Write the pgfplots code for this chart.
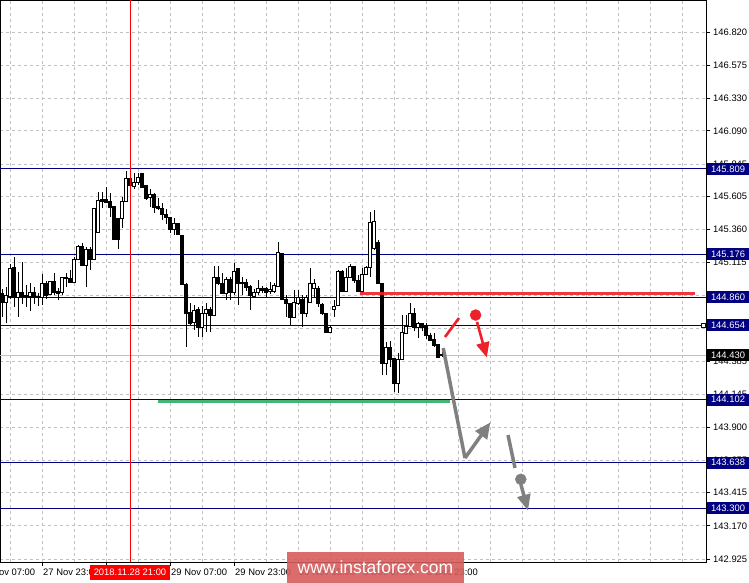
\documentclass[border=0pt]{standalone}
\usepackage{fontspec}
\setmainfont{Liberation Sans}
\usepackage{pgfplots}
\pgfplotsset{compat=1.18}
\usepackage{pgfplotstable}
\usetikzlibrary{arrows.meta}
\definecolor{mtnavy}{RGB}{0,0,128}
\definecolor{mtgrid}{RGB}{192,192,192}
\definecolor{mtred}{RGB}{238,32,42}
\definecolor{mtgreen}{RGB}{50,172,100}
\definecolor{mtgray}{RGB}{128,128,128}
\definecolor{wmred}{RGB}{214,92,92}

\pgfplotstableread{
h O H L C
0 144.891 144.921 144.714 144.824
1 144.824 144.935 144.669 144.876
2 144.869 145.105 144.847 145.076
3 145.083 145.157 144.788 144.861
4 144.861 145.046 144.714 144.898
5 144.898 145.120 144.810 144.869
6 144.876 144.950 144.788 144.869
7 144.869 144.965 144.758 144.898
8 144.898 144.935 144.810 144.861
9 144.869 144.891 144.795 144.861
10 144.861 145.031 144.802 144.965
11 144.965 144.980 144.847 144.876
12 144.884 144.980 144.876 144.980
13 144.980 145.039 144.876 144.898
14 144.906 144.928 144.839 144.891
15 144.898 145.009 144.876 145.009
16 145.009 145.039 144.935 145.002
17 145.002 145.061 144.972 144.972
18 144.972 145.157 144.972 145.142
19 145.142 145.246 145.135 145.238
20 145.238 145.261 145.091 145.098
21 145.098 145.231 144.935 145.216
22 145.216 145.231 145.061 145.142
23 145.142 145.519 145.142 145.519
24 145.342 145.637 145.342 145.578
25 145.586 145.637 145.519 145.571
26 145.586 145.674 145.564 145.564
27 145.571 145.630 145.453 145.527
28 145.534 145.534 145.283 145.290
29 145.445 145.445 145.216 145.290
30 145.445 145.600 145.371 145.571
31 145.571 145.793 145.571 145.741
32 145.741 145.756 145.682 145.689
33 145.682 145.778 145.660 145.711
34 145.711 145.778 145.689 145.748
35 145.778 145.778 145.674 145.674
36 145.689 145.689 145.578 145.593
37 145.600 145.660 145.527 145.623
38 145.623 145.630 145.482 145.527
39 145.534 145.593 145.504 145.519
40 145.519 145.556 145.431 145.475
41 145.475 145.512 145.401 145.453
42 145.453 145.453 145.334 145.364
43 145.364 145.445 145.320 145.408
44 145.408 145.408 145.320 145.327
45 145.320 145.320 144.950 144.958
46 144.958 144.965 144.492 144.743
47 144.750 144.817 144.654 144.669
48 144.677 144.802 144.618 144.765
49 144.773 144.788 144.566 144.640
50 144.640 144.795 144.566 144.743
51 144.743 144.817 144.603 144.773
52 144.773 144.788 144.603 144.728
53 144.728 145.091 144.728 145.009
54 145.009 145.091 144.950 144.965
55 144.965 145.039 144.884 144.891
56 144.891 145.009 144.839 144.994
57 144.994 145.009 144.839 144.898
58 144.898 145.113 144.876 145.054
59 145.076 145.076 144.802 144.965
60 144.972 145.009 144.876 144.965
61 144.972 144.994 144.906 144.935
62 144.943 144.950 144.765 144.876
63 144.869 144.921 144.854 144.898
64 144.898 144.987 144.876 144.928
65 144.928 144.943 144.891 144.913
66 144.928 144.935 144.861 144.898
67 144.906 144.972 144.884 144.921
68 144.906 144.965 144.891 144.950
69 144.943 145.268 144.943 145.194
70 145.187 145.187 144.839 144.847
71 144.847 144.876 144.714 144.817
72 144.817 144.817 144.654 144.714
73 144.714 144.913 144.706 144.824
74 144.817 144.913 144.802 144.861
75 144.847 144.876 144.640 144.743
76 144.743 144.876 144.714 144.861
77 144.824 145.076 144.817 144.965
78 144.928 144.994 144.861 144.965
79 144.928 144.943 144.788 144.817
80 144.810 144.817 144.728 144.743
81 144.743 144.743 144.595 144.603
82 144.603 144.647 144.595 144.640
83 144.773 144.839 144.714 144.795
84 144.802 145.061 144.795 145.054
85 145.054 145.061 144.898 144.906
86 144.906 145.076 144.898 145.009
87 145.009 145.105 145.002 145.091
88 145.091 145.091 144.965 144.987
89 144.987 145.024 144.898 144.906
90 144.906 145.076 144.891 145.031
91 145.031 145.091 145.024 145.083
92 145.083 145.490 145.009 145.416
93 145.224 145.504 145.209 145.423
94 145.268 145.283 144.965 144.965
95 144.965 144.965 144.285 144.374
96 144.374 144.529 144.285 144.492
97 144.492 144.536 144.344 144.403
98 144.411 144.411 144.159 144.226
99 144.226 144.448 144.152 144.403
100 144.403 144.728 144.396 144.603
101 144.595 144.728 144.595 144.647
102 144.647 144.817 144.640 144.743
103 144.743 144.780 144.610 144.640
104 144.640 144.677 144.558 144.669
105 144.669 144.669 144.610 144.640
106 144.654 144.669 144.551 144.581
107 144.581 144.595 144.536 144.544
108 144.551 144.595 144.492 144.507
109 144.514 144.514 144.411 144.418
110 144.440 144.455 144.418 144.433
}\candles

\pgfplotstablegetrowsof{\candles}
\pgfmathtruncatemacro{\lastrow}{\pgfplotsretval-1}

\newcommand{\lblfont}{\fontsize{9.4bp}{10bp}\selectfont}

\begin{document}
\begin{tikzpicture}
\begin{axis}[
  at={(0,0)}, anchor=south west,
  scale only axis, width=706bp, height=562bp,
  xmin=-0.5, xmax=176, ymin=142.9028, ymax=147.0565,
  axis line style={black, line width=0.8bp},
  xtick={10,26,42,58,74,90,106},
  xticklabels={27 Nov 23:00, {}, 29 Nov 07:00, 29 Nov 23:00, 30 Nov 15:00, 3 Dec 07:00, 3 Dec 23:00},
  ytick={146.820,146.575,146.330,146.090,145.845,145.605,145.360,145.115,144.870,144.630,144.385,144.145,143.900,143.655,143.415,143.170,142.925},
  yticklabels={146.820,146.575,146.330,146.090,145.845,145.605,145.360,145.115,144.870,144.630,144.385,144.145,143.900,143.655,143.415,143.170,142.925},
  xtick pos=left, ytick pos=right, yticklabel pos=right,
  tick align=outside, major tick length=4bp,
  tick style={black, line width=0.7bp},
  ymajorgrids,
  minor xtick={2,10,...,170}, xminorgrids, minor tick length=0pt,
  grid style={mtgrid, dash pattern=on 3bp off 3bp, line width=0.7bp},
  minor grid style={mtgrid, dash pattern=on 3bp off 3bp, line width=0.7bp},
  xticklabel style={anchor=north west, inner sep=0pt, xshift=1bp, yshift=-3bp},
  yticklabel style={anchor=west, inner sep=0pt, xshift=3bp},
  every tick label/.append style={font=\lblfont},
]
% horizontal level lines
\addplot[mtgrid, line width=1bp] coordinates {(-0.5,144.430) (176,144.430)};
\addplot[mtnavy, line width=0.9bp] coordinates {(-0.5,145.809) (176,145.809)};
\addplot[mtnavy, line width=0.9bp] coordinates {(-0.5,145.176) (176,145.176)};
\addplot[mtnavy, line width=0.9bp] coordinates {(-0.5,144.860) (176,144.860)};
\addplot[mtnavy, line width=0.9bp] coordinates {(-0.5,144.654) (175.3,144.654)};
\addplot[mtnavy, line width=0.9bp] coordinates {(-0.5,144.102) (176,144.102)};
\addplot[mtnavy, line width=0.9bp] coordinates {(-0.5,143.638) (176,143.638)};
\addplot[mtnavy, line width=0.9bp] coordinates {(-0.5,143.300) (176,143.300)};
\addplot[only marks, mark=square*, mark size=1.8bp, mark options={draw=mtnavy, fill=white, line width=0.7bp}] coordinates {(175.3,144.654)};

% candles
\pgfplotsforeachungrouped \rowi in {0,...,\lastrow}{%
  \pgfplotstablegetelem{\rowi}{h}\of\candles \let\vh\pgfplotsretval
  \pgfplotstablegetelem{\rowi}{O}\of\candles \let\vo\pgfplotsretval
  \pgfplotstablegetelem{\rowi}{H}\of\candles \let\vhi\pgfplotsretval
  \pgfplotstablegetelem{\rowi}{L}\of\candles \let\vlo\pgfplotsretval
  \pgfplotstablegetelem{\rowi}{C}\of\candles \let\vc\pgfplotsretval
  \pgfmathsetmacro{\xa}{\vh-0.36}%
  \pgfmathsetmacro{\xb}{\vh+0.36}%
  \ifdim\vc pt<\vo pt \def\bodyfill{black}\else\def\bodyfill{white}\fi
  \edef\temp{\noexpand\draw[black, line width=0.8bp] (axis cs:\vh,\vlo) -- (axis cs:\vh,\vhi);
    \noexpand\filldraw[draw=black, fill=\bodyfill, line width=0.7bp] (axis cs:\xa,\vo) rectangle (axis cs:\xb,\vc);}%
  \temp
}

% red vertical time line
\addplot[red, line width=1bp] coordinates {(32,142.9028) (32,147.0565)};

% red resistance and green support
\addplot[mtred, line width=3bp, opacity=0.9] coordinates {(89.5,144.884) (173.25,144.884)};
\addplot[mtgreen, line width=3bp, opacity=0.9] coordinates {(39,144.087) (112,144.087)};

% red scenario
\addplot[mtred, line width=2.6bp] coordinates {(110.75,144.566) (114.25,144.706)};
\addplot[only marks, mark=*, mark size=5.5bp, color=mtred] coordinates {(118.4,144.728)};
\addplot[mtred, line width=2.6bp, -{Triangle[width=13bp,length=15bp]}] coordinates {(118.75,144.677) (121.2,144.415)};

% gray scenario
\addplot[mtgray, line width=3.5bp] coordinates {(110.3,144.484) (115.75,143.671)};
\addplot[mtgray, line width=3.5bp, -{Triangle[width=14bp,length=16bp]}] coordinates {(115.75,143.671) (122.1,143.935)};
\addplot[mtgray, line width=3.5bp] coordinates {(126.5,143.841) (128.25,143.598)};
\addplot[only marks, mark=*, mark size=5.5bp, color=mtgray] coordinates {(129.7,143.514)};
\addplot[mtgray, line width=3.5bp, -{Triangle[width=13bp,length=16bp]}] coordinates {(129.7,143.479) (131.5,143.282)};

\coordinate (b1) at (axis cs:176,145.809);
\coordinate (b2) at (axis cs:176,145.176);
\coordinate (b3) at (axis cs:176,144.860);
\coordinate (b4) at (axis cs:176,144.654);
\coordinate (b5) at (axis cs:176,144.430);
\coordinate (b6) at (axis cs:176,144.102);
\coordinate (b7) at (axis cs:176,143.638);
\coordinate (b8) at (axis cs:176,143.300);
\coordinate (t1) at (axis cs:32,142.9028);
\end{axis}

\tikzset{lab/.style={anchor=west, fill=mtnavy, text=white, inner xsep=4bp, inner ysep=0pt, minimum height=12bp, xshift=0.8bp, font=\lblfont}}
\node[lab] at (b1) {145.809};
\node[lab] at (b2) {145.176};
\node[lab] at (b3) {144.860};
\node[lab] at (b4) {144.654};
\node[lab, fill=black] at (b5) {144.430};
\node[lab] at (b6) {144.102};
\node[lab] at (b7) {143.638};
\node[lab] at (b8) {143.300};

% leftmost cut-off time label
\node[anchor=north west, inner sep=0pt, font=\lblfont] at (-21bp,-7bp) {27 Nov 07:00};
% highlighted time label
\node[anchor=north, fill=red, text=white, font=\lblfont, inner xsep=4bp, inner ysep=0pt, minimum height=15bp, yshift=-3bp] at (t1) {2018.11.28 21:00};

% watermark
\fill[wmred, opacity=0.9] (287bp,10bp) rectangle (464bp,-21bp);
\node[text=white, font=\fontsize{17.5bp}{19bp}\selectfont, anchor=center] at (375.5bp,-5.5bp) {www.instaforex.com};

\pgfresetboundingbox
\path[use as bounding box] (0,-21bp) rectangle (749bp,562bp);
\end{tikzpicture}
\end{document}
